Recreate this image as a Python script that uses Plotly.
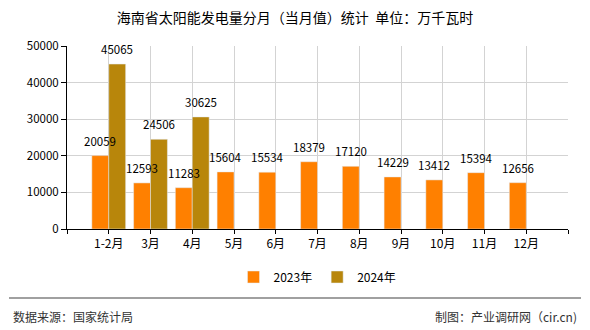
import plotly.graph_objects as go

categories = ["1-2月", "3月", "4月", "5月", "6月", "7月", "8月", "9月", "10月", "11月", "12月"]
values_2023 = [20059, 12593, 11283, 15604, 15534, 18379, 17120, 14229, 13412, 15394, 12656]
values_2024 = [45065, 24506, 30625, None, None, None, None, None, None, None, None]
series_names = ["2023年", "2024年"]
y_ticks = [0, 10000, 20000, 30000, 40000, 50000]

FONT = "Noto Sans CJK SC, Noto Sans, sans-serif"
L, R, T, B = 67, 22, 46, 101
W, H = 590, 330
pw, ph = W - L - R, H - T - B
BARGAP = 0.19

def px_x(px):
    return (px - L) / pw

def px_y(py):
    return (H - B - py) / ph

idx = list(range(len(categories)))
slot_px = pw / (len(categories) + 1)
bar_px = slot_px * (1 - BARGAP) / 2

fig = go.Figure()
fig.add_trace(go.Bar(x=idx, y=values_2023, name=series_names[0], marker_color="#FF8000"))
fig.add_trace(go.Bar(x=idx, y=values_2024, name=series_names[1], marker_color="#B8860B"))

for vals, sign in ((values_2023, -1), (values_2024, 1)):
    for i, v in zip(idx, vals):
        if v is None:
            continue
        fig.add_annotation(x=i, y=v, xref="x", yref="y", text=str(v), showarrow=False,
                           xanchor="center", yanchor="bottom", xshift=sign * bar_px / 2, yshift=5,
                           font=dict(size=11.5, color="#000000", family=FONT))

fig.update_layout(
    width=W, height=H,
    margin=dict(l=L, r=R, t=T, b=B),
    paper_bgcolor="white", plot_bgcolor="white",
    barmode="group", bargap=BARGAP, bargroupgap=0,
    font=dict(family=FONT, size=12, color="#000000"),
    title=dict(text="海南省太阳能发电量分月（当月值）统计  单位：万千瓦时",
               x=0.5, xanchor="center", y=1 - 18 / H, yanchor="middle",
               font=dict(size=14, color="#000000", family=FONT)),
    showlegend=True,
    legend=dict(orientation="h", x=0.5, xanchor="center", y=px_y(277), yanchor="middle",
                font=dict(size=12, color="#000000", family=FONT), traceorder="normal",
                itemwidth=30, bgcolor="rgba(0,0,0,0)"),
)

fig.update_xaxes(
    range=[-1, len(categories)], tickmode="array",
    tickvals=list(range(-1, len(categories) + 1)),
    ticktext=[""] + categories + [""],
    showgrid=True, gridcolor="#D3D3D3", gridwidth=1,
    showline=True, linecolor="#000000", linewidth=1,
    ticks="outside", ticklen=4, tickcolor="#000000",
    tickfont=dict(size=12, color="#000000", family=FONT),
    zeroline=False, fixedrange=True,
)
fig.update_yaxes(
    range=[0, 50000], tickmode="array", tickvals=y_ticks,
    ticktext=[str(v) for v in y_ticks],
    showgrid=True, gridcolor="#D3D3D3", gridwidth=1,
    showline=True, linecolor="#000000", linewidth=1,
    ticks="outside", ticklen=5, tickcolor="#000000",
    tickfont=dict(size=11.5, color="#000000", family=FONT),
    zeroline=False, fixedrange=True,
)

fig.add_shape(type="line", xref="paper", yref="paper",
              x0=px_x(9), x1=px_x(581), y0=px_y(298), y1=px_y(298),
              line=dict(color="#808080", width=1.5))
fig.add_annotation(text="数据来源：国家统计局", xref="paper", yref="paper",
                   x=px_x(11), y=px_y(316), xanchor="left", yanchor="middle",
                   showarrow=False, font=dict(size=12, color="#333333", family=FONT))
fig.add_annotation(text="制图：产业调研网（cir.cn)", xref="paper", yref="paper",
                   x=px_x(579), y=px_y(316), xanchor="right", yanchor="middle",
                   showarrow=False, font=dict(size=12, color="#333333", family=FONT))

fig.write_html("out.html")
